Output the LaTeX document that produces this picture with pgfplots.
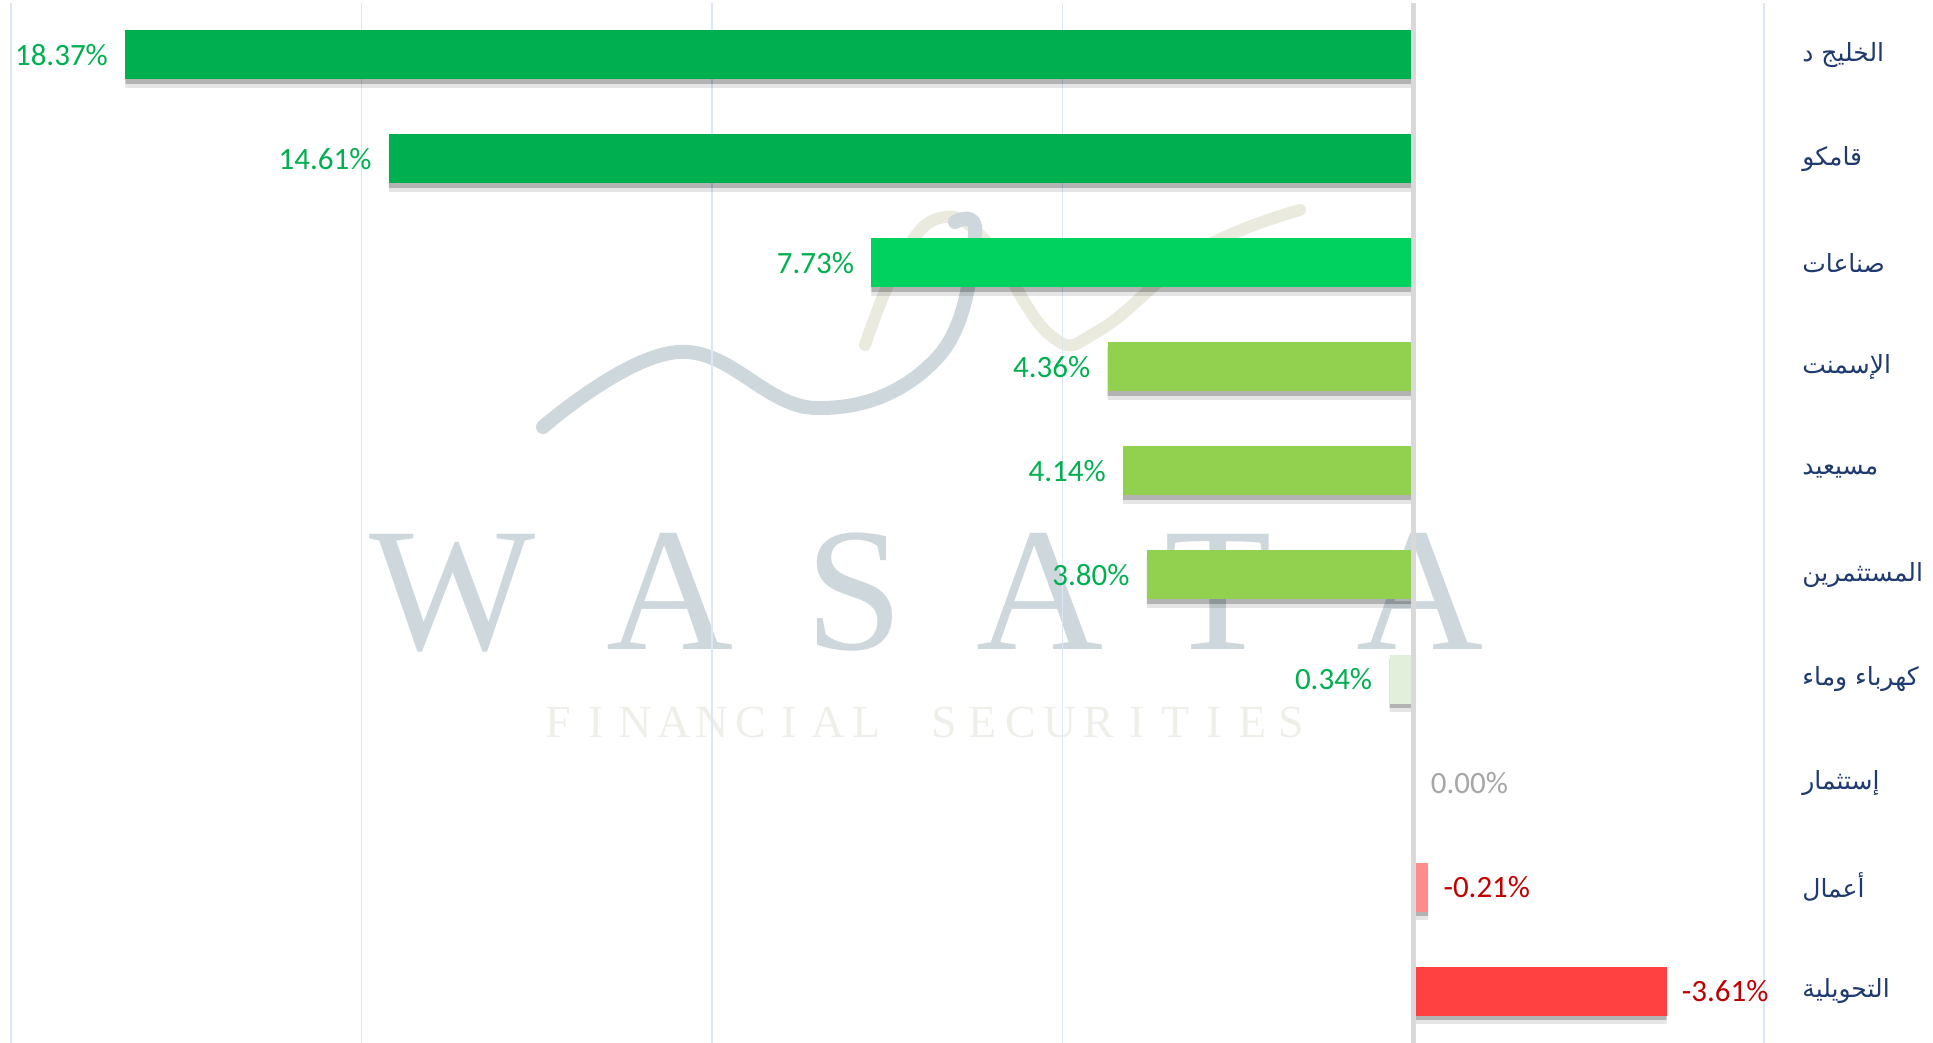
\documentclass[border=0pt]{standalone}
\usepackage{fontspec}
\setmainfont{Carlito}
\newfontfamily\arabicfont[Script=Arabic]{DejaVu Sans}
\newfontfamily\wmfont{Liberation Serif}
\TeXXeTstate=1
\usepackage{pgfplots}
\pgfplotsset{compat=1.18}
\definecolor{dkgreen}{HTML}{00AF50}
\definecolor{brgreen}{HTML}{00D25F}
\definecolor{ltgreen}{HTML}{92D050}
\definecolor{pagreen}{HTML}{E2EFDA}
\definecolor{pink}{HTML}{FF8B8B}
\definecolor{red}{HTML}{FF4141}
\definecolor{lblgreen}{HTML}{00B050}
\definecolor{lblred}{HTML}{C00000}
\definecolor{lblgray}{HTML}{A6A6A6}
\definecolor{navy}{HTML}{1F3A6E}
\definecolor{gridblue}{HTML}{DCE6F4}
\definecolor{zerogray}{HTML}{D9D9D9}
\definecolor{wmblue}{HTML}{CDD7DC}
\definecolor{wmcream}{HTML}{EAEADF}
\definecolor{wmfaint}{HTML}{EFEFEA}
\newcommand{\ar}[1]{{\arabicfont\beginR #1\endR}}
\begin{document}
\begin{tikzpicture}
% watermark (decoration)
\begin{scope}[x=1pt, y=1pt]
\draw[wmcream, line width=6pt, line cap=round] plot[smooth, tension=0.7] coordinates {(427,349) (444.5,391.5) (464.5,412.5) (487,401.5) (519.5,354) (544.5,356.5) (594.5,396.5) (644.5,416.5)};
\draw[wmblue, line width=7pt, line cap=round] plot[smooth, tension=0.7] coordinates {(266,308) (333.5,345.5) (402.5,317.5) (463.5,343) (482,404) (472,410.5)};
\foreach \x/\c in {221/W,329.5/A,421.5/S,514.5/A,603.5/T,704.5/A}
  \node[anchor=base, inner sep=0pt, text=wmblue, font=\wmfont\fontsize{88}{90}\selectfont] at (\x,196.5) {\c};
\foreach \c [count=\i] in {F,I,N,A,N,C,I,A,L,{},S,E,C,U,R,I,T,I,E,S}
  \node[anchor=base, inner sep=0pt, text=wmfaint, font=\wmfont\fontsize{23}{25}\selectfont] at ({(558+(\i-1)*38.6-11)*0.5},152.5) {\c};
\end{scope}
\begin{axis}[
  at={(0,0)}, anchor=south west, scale only axis,
  width=876.5pt, height=520pt,
  xmin=-5, xmax=20, x dir=reverse,
  ymin=-0.5, ymax=9.5, y dir=reverse,
  xbar, bar width=24.5pt, bar shift=0pt,
  axis line style={draw=none},
  xtick={-5,0,5,10,15,20}, xticklabel=\empty,
  xmajorgrids, grid style={color=gridblue, line width=0.7pt},
  major tick length=0pt,
  ytick={0,...,9},
  yticklabels={\ar{الخليج د},\ar{قامكو},\ar{صناعات},\ar{الإسمنت},\ar{مسيعيد},\ar{المستثمرين},\ar{كهرباء وماء},\ar{إستثمار},\ar{أعمال},\ar{التحويلية}},
  yticklabel pos=right,
  yticklabel style={anchor=west, inner sep=0pt, xshift=19pt, font=\fontsize{12.5}{15}\selectfont, text=navy},
  clip=false,
  lbl/.style={point meta=explicit symbolic, nodes near coords,
    every node near coord/.append style={font=\fontsize{15.5}{18}\selectfont, inner sep=0pt}},
  pos/.style={lbl, every node near coord/.append style={anchor=east, xshift=-8.5pt, text=lblgreen}},
  neg/.style={lbl, every node near coord/.append style={anchor=west, xshift=7.5pt, text=lblred}},
  shadowA/.style={fill=black, fill opacity=0.10, draw=none, bar width=26.5pt, bar shift=-3.2pt, forget plot},
  shadowB/.style={fill=black, fill opacity=0.22, draw=none, bar width=24.5pt, bar shift=-2.2pt, forget plot},
]
% shadows
\addplot[shadowA] coordinates {(18.37,0) (14.61,1) (7.73,2) (4.36,3) (4.14,4) (3.80,5) (0.34,6) (-0.21,8) (-3.61,9)};
\addplot[shadowB] coordinates {(18.37,0) (14.61,1) (7.73,2) (4.36,3) (4.14,4) (3.80,5) (0.34,6) (-0.21,8) (-3.61,9)};
% bars
\addplot[fill=dkgreen, draw=none, bar shift=0pt, pos] coordinates {(18.37,0) [18.37\%]};
\addplot[fill=dkgreen, draw=none, bar shift=0pt, pos] coordinates {(14.61,1) [14.61\%]};
\addplot[fill=brgreen, draw=none, bar shift=0pt, pos] coordinates {(7.73,2) [7.73\%]};
\addplot[fill=ltgreen, draw=none, bar shift=0pt, pos] coordinates {(4.36,3) [4.36\%]};
\addplot[fill=ltgreen, draw=none, bar shift=0pt, pos] coordinates {(4.14,4) [4.14\%]};
\addplot[fill=ltgreen, draw=none, bar shift=0pt, pos] coordinates {(3.80,5) [3.80\%]};
\addplot[fill=pagreen, draw=none, bar shift=0pt, pos] coordinates {(0.34,6) [0.34\%]};
\addplot[fill=none, draw=none, bar shift=0pt, lbl, every node near coord/.append style={anchor=west, xshift=8.5pt, text=lblgray}] coordinates {(0,7) [0.00\%]};
\addplot[fill=pink, draw=none, bar shift=0pt, neg] coordinates {(-0.21,8) [-0.21\%]};
\addplot[fill=red, draw=none, bar shift=0pt, neg] coordinates {(-3.61,9) [-3.61\%]};
\draw[zerogray, line width=2.5pt] (axis cs:0,-0.5) -- (axis cs:0,9.5);
\end{axis}
\pgfresetboundingbox
\useasboundingbox (-5.5pt,0pt) rectangle (961pt,521.5pt);
\end{tikzpicture}
\end{document}
